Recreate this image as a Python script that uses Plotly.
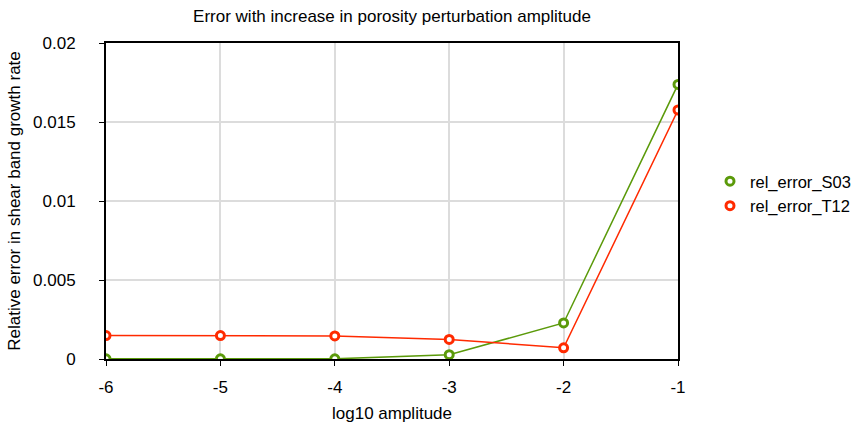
import plotly.graph_objects as go

log10_amplitude = [-6, -5, -4, -3, -2, -1]
rel_error_S03 = [0.00001, 0.00001, 0.00001, 0.00027, 0.00228, 0.01738]
rel_error_T12 = [0.00148, 0.00148, 0.00146, 0.00124, 0.00071, 0.01576]
y_tick_vals = [0, 0.005, 0.01, 0.015, 0.02]
y_tick_text = ["0", "0.005", "0.01", "0.015", "0.02"]
x_tick_vals = [-6, -5, -4, -3, -2, -1]
x_tick_text = ["-6", "-5", "-4", "-3", "-2", "-1"]

green = "#5b9a0a"
red = "#ff2a00"

fig = go.Figure()
for name, vals, col in [("rel_error_S03", rel_error_S03, green),
                        ("rel_error_T12", rel_error_T12, red)]:
    fig.add_trace(go.Scatter(
        x=log10_amplitude, y=vals, mode="lines+markers", name=name,
        showlegend=False,
        line=dict(color=col, width=1.5),
        marker=dict(symbol="circle", size=8, color="white",
                    line=dict(color=col, width=3)),
    ))
    fig.add_trace(go.Scatter(
        x=[None], y=[None], mode="markers", name=name,
        marker=dict(symbol="circle", size=8, color="white",
                    line=dict(color=col, width=3)),
    ))

fig.update_layout(
    width=857, height=423,
    margin=dict(l=106, r=179, t=43, b=64, autoexpand=False),
    paper_bgcolor="white", plot_bgcolor="white",
    font=dict(family="Arial, Liberation Sans, sans-serif", size=17, color="black"),
    title=dict(text="Error with increase in porosity perturbation amplitude",
               x=392 / 857, xanchor="center", y=1 - 16 / 423, yanchor="middle",
               font=dict(size=17)),
    legend=dict(xref="container", yref="container",
                x=710 / 857, xanchor="left", y=1 - 193.5 / 423, yanchor="middle",
                font=dict(size=16.5), tracegroupgap=0,
                bgcolor="rgba(0,0,0,0)"),
    xaxis=dict(range=[-6, -1], tickvals=x_tick_vals, ticktext=x_tick_text,
               showgrid=True, gridcolor="#dcdcdc", gridwidth=1.5,
               showline=True, linecolor="black", linewidth=2, mirror=True,
               ticks="outside", ticklen=5, tickcolor="black", zeroline=False,
               ticklabelstandoff=7, automargin=False,
               title=dict(text="log10 amplitude", font=dict(size=17), standoff=11)),
    yaxis=dict(range=[0, 0.02], tickvals=y_tick_vals, ticktext=y_tick_text,
               showgrid=True, gridcolor="#dcdcdc", gridwidth=1.5,
               showline=True, linecolor="black", linewidth=2, mirror=True,
               ticks="outside", ticklen=5, tickcolor="black", zeroline=False,
               ticklabelstandoff=20, automargin=False,
               title=dict(text="Relative error in shear band growth rate", font=dict(size=17), standoff=8)),
)

fig.write_html("out.html", config={"displayModeBar": False},
               post_script="document.body.style.margin='0';document.body.style.overflow='hidden';")
